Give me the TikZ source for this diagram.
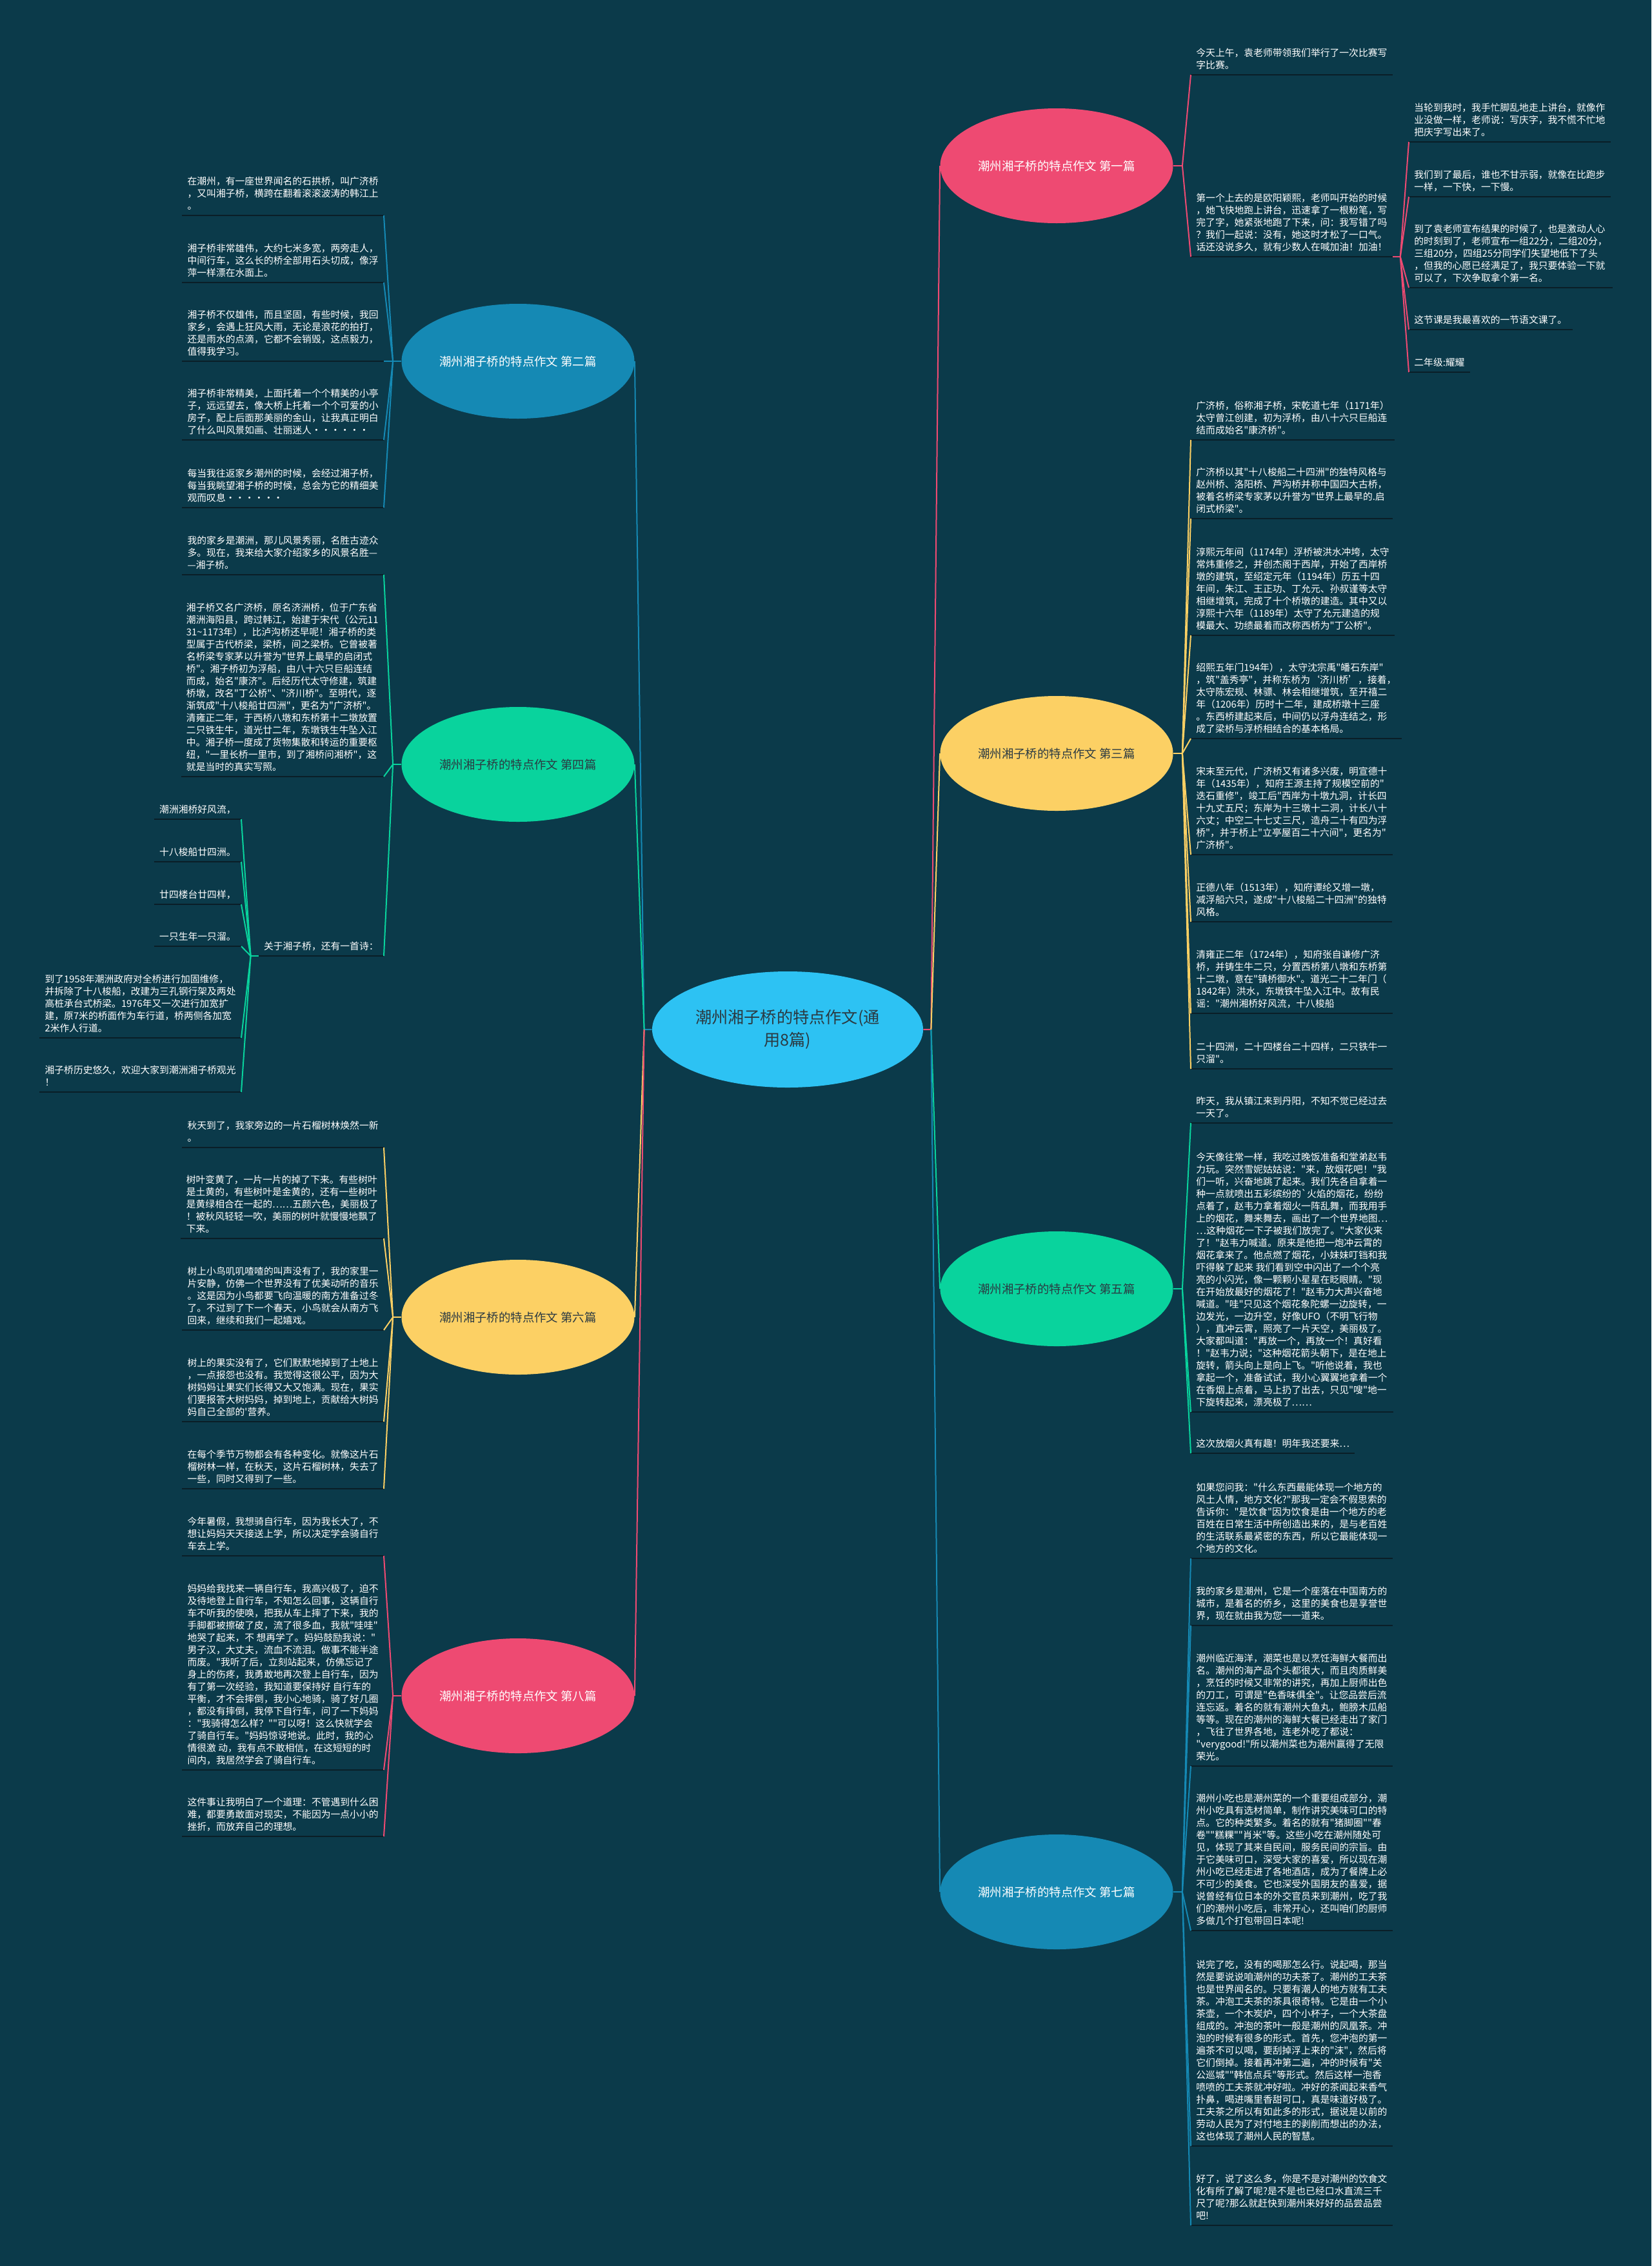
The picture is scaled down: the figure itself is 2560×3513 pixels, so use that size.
\documentclass[tikz,border=0pt]{standalone}
\usepackage{fontspec}
\setmainfont{Noto Sans CJK SC}[Ligatures=TeXOff]
\usetikzlibrary{shapes.geometric}

\definecolor{bgc}{HTML}{0B3A4A}
\definecolor{ulc}{HTML}{0A1E27}
\definecolor{pinkc}{HTML}{EE4A72}
\definecolor{yelc}{HTML}{FCD064}
\definecolor{grnc}{HTML}{09D39D}
\definecolor{bluc}{HTML}{1589B4}
\definecolor{ctrc}{HTML}{2DC2F3}
\definecolor{darkc}{HTML}{2B3A42}

\newcommand\leaffont{\fontsize{7.4pt}{9.5pt}\selectfont}
\newcommand\topicfont{\fontsize{9.2pt}{11pt}\selectfont}
\newcommand\rootfont{\fontsize{12.6pt}{17.5pt}\selectfont}

\tikzset{
  root/.style={ellipse, fill=ctrc, inner sep=0pt, minimum width=210pt, minimum height=90pt, font=\rootfont, text=darkc, align=center},
  topic/.style={ellipse, inner sep=0pt, minimum width=180.5pt, minimum height=89pt, font=\topicfont},
  rleaf/.style={anchor=south west, align=left, text=white, font=\leaffont, inner xsep=4pt, inner ysep=4.6pt, text depth=0pt,
    append after command={(\tikzlastnode.south west) edge[draw=ulc, line width=1.2pt] (\tikzlastnode.south east)}},
  lleaf/.style={rleaf, anchor=south east},
  link/.style={line width=1pt},
}

\begin{document}
\begin{tikzpicture}[x=0.5pt, y=-0.5pt]
  \useasboundingbox (0,0) rectangle (2560,3513);
  \fill[bgc] (0,0) rectangle (2560,3513);

  % 中心
  \node[root] (c) at (1221,1596) {潮州湘子桥的特点作文(通\\用8篇)};

  % 第一篇
  \node[topic, fill=pinkc, text=white] (t1) at (1638,257) {潮州湘子桥的特点作文 第一篇};
  \node[rleaf] (l1a) at (1846,116) {今天上午，袁老师带领我们举行了一次比赛写\\字比赛。};
  \node[rleaf] (l1b) at (1846,398) {第一个上去的是欧阳颖熙，老师叫开始的时候\\，她飞快地跑上讲台，迅速拿了一根粉笔，写\\完了字，她紧张地跑了下来，问：我写错了吗\\？我们一起说：没有，她这时才松了一口气。\\话还没说多久，就有少数人在喊加油！加油！};
  \node[rleaf] (s1a) at (2184,220) {当轮到我时，我手忙脚乱地走上讲台，就像作\\业没做一样，老师说：写庆字，我不慌不忙地\\把庆字写出来了。};
  \node[rleaf] (s1b) at (2184,305) {我们到了最后，谁也不甘示弱，就像在比跑步\\一样，一下快，一下慢。};
  \node[rleaf] (s1c) at (2184,446) {到了袁老师宣布结果的时候了，也是激动人心\\的时刻到了，老师宣布一组22分，二组20分，\\三组20分，四组25分同学们失望地低下了头\\，但我的心愿已经满足了，我只要体验一下就\\可以了，下次争取拿个第一名。};
  \node[rleaf] (s1d) at (2184,511) {这节课是我最喜欢的一节语文课了。};
  \node[rleaf] (s1e) at (2184,577) {二年级:耀耀};

  % 第三篇
  \node[topic, fill=yelc, text=darkc] (t3) at (1638,1168) {潮州湘子桥的特点作文 第三篇};
  \node[rleaf] (l3a) at (1846,682) {广济桥，俗称湘子桥，宋乾道七年（1171年）\\太守曾江创建，初为浮桥，由八十六只巨船连\\结而成始名"康济桥"。};
  \node[rleaf] (l3b) at (1846,804) {广济桥以其"十八梭船二十四洲"的独特风格与\\赵州桥、洛阳桥、芦沟桥并称中国四大古桥，\\被着名桥梁专家茅以升誉为"世界上最早的.启\\闭式桥梁"。};
  \node[rleaf] (l3c) at (1846,985) {淳熙元年间（1174年）浮桥被洪水冲垮，太守\\常炜重修之，并创杰阁于西岸，开始了西岸桥\\墩的建筑，至绍定元年（1194年）历五十四\\年间，朱江、王正功、丁允元、孙叔谨等太守\\相继增筑，完成了十个桥墩的建造。其中又以\\淳熙十六年（1189年）太守了允元建造的规\\模最大、功绩最着而改称西桥为"丁公桥"。};
  \node[rleaf] (l3d) at (1846,1145) {绍熙五年门194年），太守沈宗禹"皤石东岸"\\，筑"盖秀亭"，并称东桥为‘济川桥’，接着，\\太守陈宏规、林骠、林会相继增筑，至开禧二\\年（1206年）历时十二年，建成桥墩十三座\\。东西桥建起来后，中间仍以浮舟连结之，形\\成了梁桥与浮桥相结合的基本格局。};
  \node[rleaf] (l3e) at (1846,1325) {宋末至元代，广济桥又有诸多兴废，明宣德十\\年（1435年），知府王源主持了规模空前的"\\迭石重修"，竣工后"西岸为十墩九洞，计长四\\十九丈五尺；东岸为十三墩十二洞，计长八十\\六丈；中空二十七丈三尺，造舟二十有四为浮\\桥"，并于桥上"立亭屋百二十六间"，更名为"\\广济桥"。};
  \node[rleaf] (l3f) at (1846,1429) {正德八年（1513年），知府谭纶又增一墩，\\减浮船六只，遂成"十八梭船二十四洲"的独特\\风格。};
  \node[rleaf] (l3g) at (1846,1571) {清雍正二年（1724年），知府张自谦修广济\\桥，并铸生牛二只，分置西桥第八墩和东桥第\\十二墩，意在"镇桥御水"。道光二十二年门（\\1842年）洪水，东墩铁牛坠入江中。故有民\\谣："潮州湘桥好风流，十八梭船};
  \node[rleaf] (l3h) at (1846,1657) {二十四洲，二十四楼台二十四样，二只铁牛一\\只溜"。};

  % 第五篇
  \node[topic, fill=grnc, text=darkc] (t5) at (1638,1998) {潮州湘子桥的特点作文 第五篇};
  \node[rleaf] (l5a) at (1846,1741) {昨天，我从镇江来到丹阳，不知不觉已经过去\\一天了。};
  \node[rleaf] (l5b) at (1846,2189) {今天像往常一样，我吃过晚饭准备和堂弟赵韦\\力玩。突然雪妮姑姑说："来，放烟花吧！"我\\们一听，兴奋地跳了起来。我们先各自拿着一\\种一点就喷出五彩缤纷的`火焰的烟花，纷纷\\点着了，赵韦力拿着烟火一阵乱舞，而我用手\\上的烟花，舞来舞去，画出了一个世界地图…\\…这种烟花一下子被我们放完了。"大家伙来\\了！"赵韦力喊道。原来是他把一炮冲云霄的\\烟花拿来了。他点燃了烟花，小妹妹叮铛和我\\吓得躲了起来 我们看到空中闪出了一个个亮\\亮的小闪光，像一颗颗小星星在眨眼睛。"现\\在开始放最好的烟花了！"赵韦力大声兴奋地\\喊道。"哇"只见这个烟花象陀螺一边旋转，一\\边发光，一边升空，好像UFO（不明飞行物\\），直冲云霄，照亮了一片天空，美丽极了。\\大家都叫道："再放一个，再放一个！真好看\\！"赵韦力说；"这种烟花箭头朝下，是在地上\\旋转，箭头向上是向上飞。"听他说着，我也\\拿起一个，准备试试，我小心翼翼地拿着一个\\在香烟上点着，马上扔了出去，只见"嗖"地一\\下旋转起来，漂亮极了……};
  \node[rleaf] (l5c) at (1846,2253) {这次放烟火真有趣！明年我还要来…};

  % 第七篇
  \node[topic, fill=bluc, text=white] (t7) at (1638,2933) {潮州湘子桥的特点作文 第七篇};
  \node[rleaf] (l7a) at (1846,2416) {如果您问我："什么东西最能体现一个地方的\\风土人情，地方文化?"那我一定会不假思索的\\告诉你："是饮食"因为饮食是由一个地方的老\\百姓在日常生活中所创造出来的，是与老百姓\\的生活联系最紧密的东西，所以它最能体现一\\个地方的文化。};
  \node[rleaf] (l7b) at (1846,2520) {我的家乡是潮州，它是一个座落在中国南方的\\城市，是着名的侨乡，这里的美食也是享誉世\\界，现在就由我为您一一道来。};
  \node[rleaf] (l7c) at (1846,2738) {潮州临近海洋，潮菜也是以烹饪海鲜大餐而出\\名。潮州的海产品个头都很大，而且肉质鲜美\\，烹饪的时候又非常的讲究，再加上厨师出色\\的刀工，可谓是"色香味俱全"。让您品尝后流\\连忘返。着名的就有潮州大鱼丸，鲍膀木瓜船\\等等。现在的潮州的海鲜大餐已经走出了家门\\，飞往了世界各地，连老外吃了都说：\\"verygood!"所以潮州菜也为潮州赢得了无限\\荣光。};
  \node[rleaf] (l7d) at (1846,2993) {潮州小吃也是潮州菜的一个重要组成部分，潮\\州小吃具有选材简单，制作讲究美味可口的特\\点。它的种类繁多。着名的就有"猪脚圈""春\\卷""糕粿""肖米"等。这些小吃在潮州随处可\\见，体现了其来自民间，服务民间的宗旨。由\\于它美味可口，深受大家的喜爱，所以现在潮\\州小吃已经走进了各地酒店，成为了餐牌上必\\不可少的美食。它也深受外国朋友的喜爱，据\\说曾经有位日本的外交官员来到潮州，吃了我\\们的潮州小吃后，非常开心，还叫咱们的厨师\\多做几个打包带回日本呢!};
  \node[rleaf] (l7e) at (1846,3327) {说完了吃，没有的喝那怎么行。说起喝，那当\\然是要说说咱潮州的功夫茶了。潮州的工夫茶\\也是世界闻名的。只要有潮人的地方就有工夫\\茶。冲泡工夫茶的茶具很奇特。它是由一个小\\茶壶，一个木炭炉，四个小杯子，一个大茶盘\\组成的。冲泡的茶叶一般是潮州的凤凰茶。冲\\泡的时候有很多的形式。首先，您冲泡的第一\\遍茶不可以喝，要刮掉浮上来的"沫"，然后将\\它们倒掉。接着再冲第二遍，冲的时候有"关\\公巡城""韩信点兵"等形式。然后这样一泡香\\喷喷的工夫茶就冲好啦。冲好的茶闻起来香气\\扑鼻，喝进嘴里香甜可口，真是味道好极了。\\工夫茶之所以有如此多的形式，据说是以前的\\劳动人民为了对付地主的剥削而想出的办法，\\这也体现了潮州人民的智慧。};
  \node[rleaf] (l7f) at (1846,3450) {好了，说了这么多，你是不是对潮州的饮食文\\化有所了解了呢?是不是也已经口水直流三千\\尺了呢?那么就赶快到潮州来好好的品尝品尝\\吧!};

  % 第二篇
  \node[topic, fill=bluc, text=white] (t2) at (803,560) {潮州湘子桥的特点作文 第二篇};
  \node[lleaf] (l2a) at (595,334) {在潮州，有一座世界闻名的石拱桥，叫广济桥\\，又叫湘子桥，横跨在翻着滚滚波涛的韩江上\\。};
  \node[lleaf] (l2b) at (595,438) {湘子桥非常雄伟，大约七米多宽，两旁走人，\\中间行车，这么长的桥全部用石头切成，像浮\\萍一样漂在水面上。};
  \node[lleaf] (l2c) at (595,560) {湘子桥不仅雄伟，而且坚固，有些时候，我回\\家乡，会遇上狂风大雨，无论是浪花的拍打，\\还是雨水的点滴，它都不会销毁，这点毅力，\\值得我学习。};
  \node[lleaf] (l2d) at (595,682) {湘子桥非常精美，上面托着一个个精美的小亭\\子，远远望去，像大桥上托着一个个可爱的小\\房子，配上后面那美丽的金山，让我真正明白\\了什么叫风景如画、壮丽迷人······};
  \node[lleaf] (l2e) at (595,787) {每当我往返家乡潮州的时候，会经过湘子桥，\\每当我眺望湘子桥的时候，总会为它的精细美\\观而叹息······};

  % 第四篇
  \node[topic, fill=grnc, text=darkc] (t4) at (803,1185) {潮州湘子桥的特点作文 第四篇};
  \node[lleaf] (l4a) at (595,891) {我的家乡是潮洲，那儿风景秀丽，名胜古迹众\\多。现在，我来给大家介绍家乡的风景名胜—\\—湘子桥。};
  \node[lleaf] (l4b) at (595,1204) {湘子桥又名广济桥，原名济洲桥，位于广东省\\潮洲海阳县，跨过韩江，始建于宋代（公元11\\31\textasciitilde1173年），比泸沟桥还早呢！湘子桥的类\\型属于古代桥梁，梁桥，间之梁桥。它曾被著\\名桥梁专家茅以升誉为"世界上最早的启闭式\\桥"。湘子桥初为浮船，由八十六只巨船连结\\而成，始名"康济"。后经历代太守修建，筑建\\桥墩，改名"丁公桥"、"济川桥"。至明代，逐\\渐筑成"十八梭船廿四洲"，更名为"广济桥"。\\清雍正二年，于西桥八墩和东桥第十二墩放置\\二只铁生牛，道光廿二年，东墩铁生牛坠入江\\中。湘子桥一度成了货物集散和转运的重要枢\\纽，"一里长桥一里市，到了湘桥问湘桥"，这\\就是当时的真实写照。};
  \node[lleaf] (l4q) at (595,1482) {关于湘子桥，还有一首诗：};
  \node[lleaf] (q1) at (374,1270) {潮洲湘桥好风流，};
  \node[lleaf] (q2) at (374,1336) {十八梭船廿四洲。};
  \node[lleaf] (q3) at (374,1402) {廿四楼台廿四样，};
  \node[lleaf] (q4) at (374,1467) {一只生年一只溜。};
  \node[lleaf] (l4c) at (374,1609) {到了1958年潮洲政府对全桥进行加固维修，\\并拆除了十八梭船，改建为三孔钢行架及两处\\高桩承台式桥梁。1976年又一次进行加宽扩\\建，原7米的桥面作为车行道，桥两侧各加宽\\2米作人行道。};
  \node[lleaf] (l4d) at (374,1693) {湘子桥历史悠久，欢迎大家到潮洲湘子桥观光\\！};

  % 第六篇
  \node[topic, fill=yelc, text=darkc] (t6) at (803,2042) {潮州湘子桥的特点作文 第六篇};
  \node[lleaf] (l6a) at (595,1779) {秋天到了，我家旁边的一片石榴树林焕然一新\\。};
  \node[lleaf] (l6b) at (595,1920) {树叶变黄了，一片一片的掉了下来。有些树叶\\是土黄的，有些树叶是金黄的，还有一些树叶\\是黄绿相合在一起的……五颜六色，美丽极了\\！被秋风轻轻一吹，美丽的树叶就慢慢地飘了\\下来。};
  \node[lleaf] (l6c) at (595,2062) {树上小鸟叽叽喳喳的叫声没有了，我的家里一\\片安静，仿佛一个世界没有了优美动听的音乐\\。这是因为小鸟都要飞向温暖的南方准备过冬\\了。不过到了下一个春天，小鸟就会从南方飞\\回来，继续和我们一起嬉戏。};
  \node[lleaf] (l6d) at (595,2204) {树上的果实没有了，它们默默地掉到了土地上\\，一点报怨也没有。我觉得这很公平，因为大\\树妈妈让果实们长得又大又饱满。现在，果实\\们要报答大树妈妈，掉到地上，贡献给大树妈\\妈自己全部的'营养。};
  \node[lleaf] (l6e) at (595,2308) {在每个季节万物都会有各种变化。就像这片石\\榴树林一样，在秋天，这片石榴树林，失去了\\一些，同时又得到了一些。};

  % 第八篇
  \node[topic, fill=pinkc, text=white] (t8) at (803,2629) {潮州湘子桥的特点作文 第八篇};
  \node[lleaf] (l8a) at (595,2412) {今年暑假，我想骑自行车，因为我长大了，不\\想让妈妈天天接送上学，所以决定学会骑自行\\车去上学。};
  \node[lleaf] (l8b) at (595,2744) {妈妈给我找来一辆自行车，我高兴极了，迫不\\及待地登上自行车，不知怎么回事，这辆自行\\车不听我的使唤，把我从车上摔了下来，我的\\手脚都被擦破了皮，流了很多血，我就"哇哇"\\地哭了起来，不 想再学了。妈妈鼓励我说："\\男子汉，大丈夫，流血不流泪。做事不能半途\\而废。"我听了后，立刻站起来，仿佛忘记了\\身上的伤疼，我勇敢地再次登上自行车，因为\\有了第一次经验，我知道要保持好 自行车的\\平衡，才不会摔倒，我小心地骑，骑了好几圈\\，都没有摔倒，我停下自行车，问了一下妈妈\\："我骑得怎么样？""可以呀！这么快就学会\\了骑自行车。"妈妈惊讶地说。此时，我的心\\情很激 动，我有点不敢相信，在这短短的时\\间内，我居然学会了骑自行车。};
  \node[lleaf] (l8c) at (595,2847) {这件事让我明白了一个道理：不管遇到什么困\\难，都要勇敢面对现实，不能因为一点小小的\\挫折，而放弃自己的理想。};

  % 中心连线
  \coordinate (jr) at ([xshift=6pt]c.east);
  \coordinate (jl) at ([xshift=-6pt]c.west);
  \draw[link, pinkc] (c.east) -- (jr) -- (t1.west);
  \draw[link, yelc] (jr) -- (t3.west);
  \draw[link, grnc] (jr) -- (t5.west);
  \draw[link, bluc] (jr) -- (t7.west);
  \draw[link, bluc] (c.west) -- (jl) -- (t2.east);
  \draw[link, grnc] (jl) -- (t4.east);
  \draw[link, yelc] (jl) -- (t6.east);
  \draw[link, pinkc] (jl) -- (t8.east);

  % 分支连线
  \coordinate (j1) at ([xshift=7pt]t1.east);
  \draw[link, pinkc] (t1.east) -- (j1);
  \foreach \n in {l1a,l1b} \draw[link, pinkc] (j1) -- (\n.south west);
  \coordinate (j1s) at ([xshift=6pt]l1b.south east);
  \draw[link, pinkc] (l1b.south east) -- (j1s);
  \foreach \n in {s1a,s1b,s1c,s1d,s1e} \draw[link, pinkc] (j1s) -- (\n.south west);

  \coordinate (j3) at ([xshift=7pt]t3.east);
  \draw[link, yelc] (t3.east) -- (j3);
  \foreach \n in {l3a,l3b,l3c,l3d,l3e,l3f,l3g,l3h} \draw[link, yelc] (j3) -- (\n.south west);

  \coordinate (j5) at ([xshift=7pt]t5.east);
  \draw[link, grnc] (t5.east) -- (j5);
  \foreach \n in {l5a,l5b,l5c} \draw[link, grnc] (j5) -- (\n.south west);

  \coordinate (j7) at ([xshift=7pt]t7.east);
  \draw[link, bluc] (t7.east) -- (j7);
  \foreach \n in {l7a,l7b,l7c,l7d,l7e,l7f} \draw[link, bluc] (j7) -- (\n.south west);

  \coordinate (j2) at ([xshift=-6.5pt]t2.west);
  \draw[link, bluc] (t2.west) -- (j2);
  \foreach \n in {l2a,l2b,l2c,l2d,l2e} \draw[link, bluc] (j2) -- (\n.south east);

  \coordinate (j4) at ([xshift=-6.5pt]t4.west);
  \draw[link, grnc] (t4.west) -- (j4);
  \foreach \n in {l4a,l4b,l4q} \draw[link, grnc] (j4) -- (\n.south east);
  \coordinate (j4q) at ([xshift=-6pt]l4q.south west);
  \draw[link, grnc] (l4q.south west) -- (j4q);
  \foreach \n in {q1,q2,q3,q4,l4c,l4d} \draw[link, grnc] (j4q) -- (\n.south east);

  \coordinate (j6) at ([xshift=-6.5pt]t6.west);
  \draw[link, yelc] (t6.west) -- (j6);
  \foreach \n in {l6a,l6b,l6c,l6d,l6e} \draw[link, yelc] (j6) -- (\n.south east);

  \coordinate (j8) at ([xshift=-6.5pt]t8.west);
  \draw[link, pinkc] (t8.west) -- (j8);
  \foreach \n in {l8a,l8b,l8c} \draw[link, pinkc] (j8) -- (\n.south east);
\end{tikzpicture}
\end{document}
